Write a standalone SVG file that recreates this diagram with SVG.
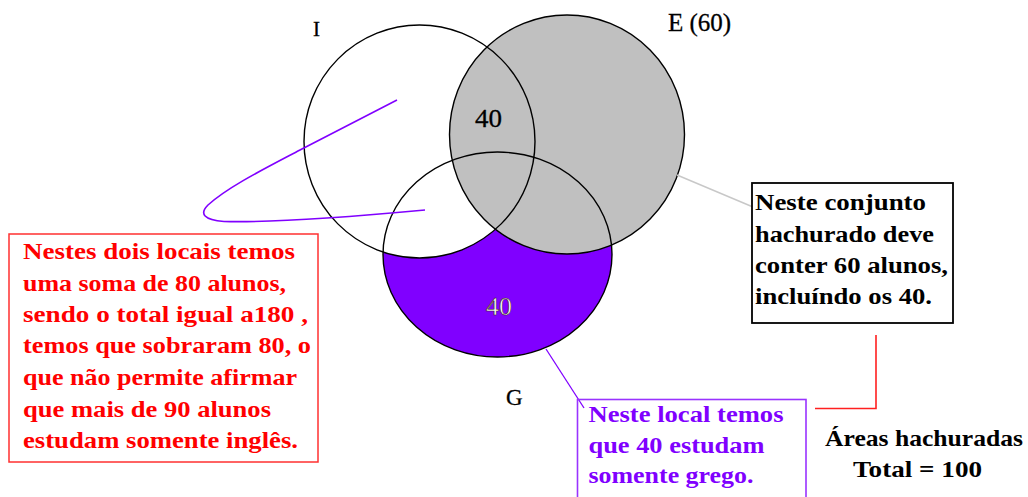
<svg xmlns="http://www.w3.org/2000/svg" width="1028" height="497" viewBox="0 0 1028 497">
<style>
.outline{fill:none;stroke:#000;stroke-width:1.4}
.lbl{font-family:"Liberation Serif","Times New Roman",serif;fill:#000;stroke:#000;stroke-width:0.3}
.bt{font-family:"Liberation Serif","Times New Roman",serif;font-size:24px;font-weight:bold}
.red{fill:#ff0000}
.blk{fill:#000}
.pur{fill:#8000ff}
</style>
<rect width="1028" height="497" fill="#fff"/>
<g id="regions">
<ellipse cx="497.5" cy="254.5" rx="114.5" ry="102.5" fill="#8000ff"/>
<ellipse cx="419.5" cy="141.5" rx="115.5" ry="116.5" fill="#fff"/>
<ellipse cx="567" cy="134.5" rx="117.5" ry="119.5" fill="#c0c0c0"/>
</g>
<g id="set-I">
<ellipse class="outline" cx="419.5" cy="141.5" rx="115.5" ry="116.5"/>
<text class="lbl" x="313" y="36" font-size="21">I</text>
</g>
<g id="set-E">
<ellipse class="outline" cx="567" cy="134.5" rx="117.5" ry="119.5"/>
<text class="lbl" x="668" y="31" font-size="25" stroke-width="0.2">E (60)</text>
</g>
<g id="set-G">
<ellipse class="outline" cx="497.5" cy="254.5" rx="114.5" ry="102.5"/>
<text class="lbl" x="506" y="405" font-size="23">G</text>
</g>
<g id="value-IE">
<text class="lbl" x="475" y="126.5" font-size="25" textLength="27" lengthAdjust="spacingAndGlyphs">40</text>
</g>
<g id="value-G">
<text x="486" y="315" font-family="Liberation Serif, serif" font-size="25" fill="#fff" stroke="#402020" stroke-width="0.6" textLength="26" lengthAdjust="spacingAndGlyphs">40</text>
</g>
<g id="connectors" fill="none">
<path d="M397,100 L300,150 C262,170 228,187 208,205 C199,214 204,220 224,221.5 C280,223 360,216 425,210" stroke="#8000ff" stroke-width="1.6"/>
<line x1="677" y1="175" x2="753" y2="207" stroke="#c8c8c8" stroke-width="1.5"/>
<line x1="546" y1="349" x2="584" y2="408" stroke="#8000ff" stroke-width="1.3"/>
<polyline points="815,408.5 876,408.5 876,335" stroke="#ff2020" stroke-width="1.6"/>
</g>
<g id="note-red">
<rect x="9" y="234" width="309" height="228" fill="#fff" stroke="#ff3030" stroke-width="1.5"/>
<text class="bt red" x="23" y="259.3" textLength="272" lengthAdjust="spacingAndGlyphs">Nestes dois locais temos</text>
<text class="bt red" x="23" y="290.7" textLength="263" lengthAdjust="spacingAndGlyphs">uma soma de 80 alunos,</text>
<text class="bt red" x="23" y="321.7" textLength="285" lengthAdjust="spacingAndGlyphs">sendo o total igual a180 ,</text>
<text class="bt red" x="23" y="353.3" textLength="288" lengthAdjust="spacingAndGlyphs">temos que sobraram 80, o</text>
<text class="bt red" x="23" y="385" textLength="274" lengthAdjust="spacingAndGlyphs">que não permite afirmar</text>
<text class="bt red" x="23" y="416.7" textLength="248" lengthAdjust="spacingAndGlyphs">que mais de 90 alunos</text>
<text class="bt red" x="23" y="447.7" textLength="275" lengthAdjust="spacingAndGlyphs">estudam somente inglês.</text>
</g>
<g id="note-black">
<rect x="752" y="183" width="201" height="140" fill="#fff" stroke="#000" stroke-width="1.8"/>
<text class="bt blk" x="755" y="210" textLength="171" lengthAdjust="spacingAndGlyphs">Neste conjunto</text>
<text class="bt blk" x="755" y="241.7" textLength="179" lengthAdjust="spacingAndGlyphs">hachurado deve</text>
<text class="bt blk" x="755" y="273.3" textLength="193" lengthAdjust="spacingAndGlyphs">conter 60 alunos,</text>
<text class="bt blk" x="755" y="304" textLength="177" lengthAdjust="spacingAndGlyphs">incluíndo os 40.</text>
</g>
<g id="note-purple">
<rect x="577.5" y="399.5" width="228.5" height="105" fill="none" stroke="#9933ff" stroke-width="1.6"/>
<text class="bt pur" x="588.5" y="421.7" textLength="195" lengthAdjust="spacingAndGlyphs">Neste local temos</text>
<text class="bt pur" x="588.5" y="453.3" textLength="176" lengthAdjust="spacingAndGlyphs">que 40 estudam</text>
<text class="bt pur" x="588.5" y="483.3" textLength="165" lengthAdjust="spacingAndGlyphs">somente grego.</text>
</g>
<g id="total-label">
<text class="bt blk" x="825" y="446" textLength="198" lengthAdjust="spacingAndGlyphs">Áreas hachuradas</text>
<text class="bt blk" x="853" y="476.7" textLength="129" lengthAdjust="spacingAndGlyphs">Total = 100</text>
</g>
</svg>
